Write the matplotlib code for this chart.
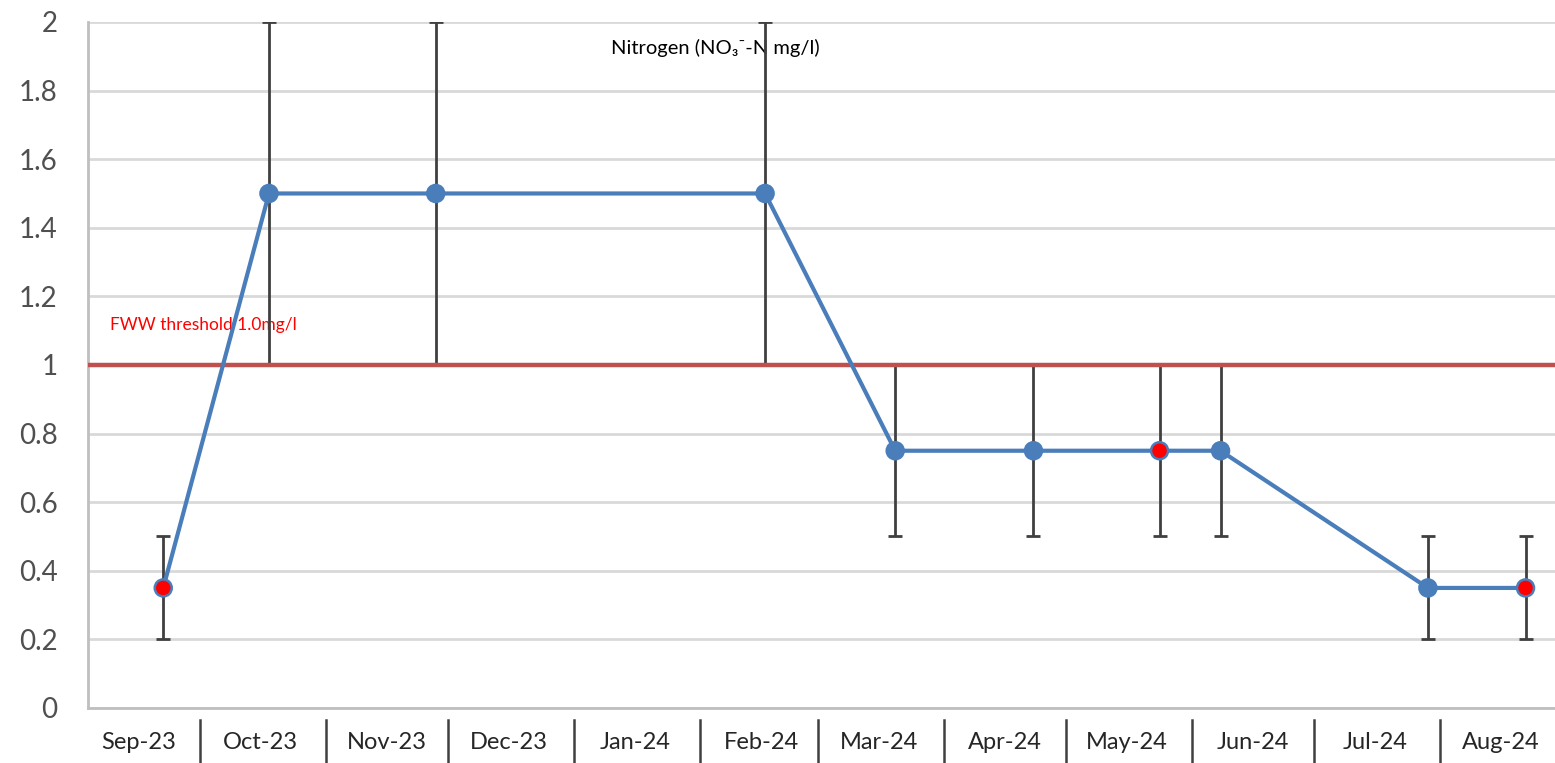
import datetime as dt
import matplotlib
matplotlib.use("Agg")
import matplotlib.pyplot as plt
import matplotlib.dates as mdates

# sampling dates and nitrate readings
sample_dates = ["2023-09-22", "2023-10-18", "2023-11-28", "2024-02-17", "2024-03-20",
                "2024-04-23", "2024-05-24", "2024-06-08", "2024-07-29", "2024-08-22"]
nitrate = [0.35, 1.5, 1.5, 1.5, 0.75, 0.75, 0.75, 0.75, 0.35, 0.35]
range_low = [0.2, 1.0, 1.0, 1.0, 0.5, 0.5, 0.5, 0.5, 0.2, 0.2]
range_high = [0.5, 2.0, 2.0, 2.0, 1.0, 1.0, 1.0, 1.0, 0.5, 0.5]
# points reported as below detection limit (red dots)
flagged = [True, False, False, False, False, False, True, False, False, True]

month_labels = ["Sep-23", "Oct-23", "Nov-23", "Dec-23", "Jan-24", "Feb-24",
                "Mar-24", "Apr-24", "May-24", "Jun-24", "Jul-24", "Aug-24"]
y_ticks = [0, 0.2, 0.4, 0.6, 0.8, 1, 1.2, 1.4, 1.6, 1.8, 2]
threshold = 1.0


def make_chart():
    plt.rcParams['font.family'] = ['Lato', 'DejaVu Sans']

    fig = plt.figure(figsize=(15.55, 7.63), dpi=100)
    ax = fig.add_axes([0.0566, 0.0721, 0.9434, 0.8991])

    x = [mdates.date2num(dt.datetime.strptime(d, "%Y-%m-%d")) for d in sample_dates]
    yerr = [[v - lo for v, lo in zip(nitrate, range_low)],
            [hi - v for v, hi in zip(nitrate, range_high)]]

    # grid + axes
    ax.set_ylim(0, 2)
    ax.set_yticks(y_ticks)
    ax.set_yticklabels([f"{t:g}" for t in y_ticks])
    ax.yaxis.grid(True, color='#d9d9d9', linewidth=2)
    ax.set_axisbelow(True)
    for s in ['top', 'right']:
        ax.spines[s].set_visible(False)
    ax.spines['left'].set_color('#bfbfbf')
    ax.spines['left'].set_linewidth(2)
    ax.spines['bottom'].set_color('#bfbfbf')
    ax.spines['bottom'].set_linewidth(2)
    ax.tick_params(axis='y', length=0, pad=22, labelsize=20, labelcolor='#505050')

    # month axis: labels mid-month, separators at month starts
    months = [dt.datetime(2023 + (8 + i) // 12, (8 + i) % 12 + 1, 1) for i in range(12)]
    mids = [mdates.date2num(m) + 15 for m in months]
    ax.set_xticks(mids)
    ax.set_xticklabels(month_labels)
    ax.tick_params(axis='x', length=0, pad=17, labelsize=17, labelcolor='#262626')
    trans = ax.get_xaxis_transform()
    for m in months[1:]:
        xm = mdates.date2num(m)
        ax.plot([xm, xm], [-0.017, -0.09], color='#404040', lw=1.8,
                transform=trans, clip_on=False)
    ax.set_xlim(mdates.date2num(dt.datetime(2023, 9, 3, 12)),
                mdates.date2num(dt.datetime(2024, 8, 29, 6)))

    # error bars (range of readings)
    ax.errorbar(x, nitrate, yerr=yerr, fmt='none', ecolor='#404040',
                elinewidth=2, capsize=5, capthick=2, zorder=2)

    # threshold line
    ax.axhline(threshold, color='#c0504d', linewidth=3.2, zorder=3)

    # data line
    ax.plot(x, nitrate, color='#4a7ebb', linewidth=3, zorder=4)
    face = ['red' if f else '#4a7ebb' for f in flagged]
    ax.scatter(x, nitrate, s=150, c=face, edgecolors='#4a7ebb', linewidths=1.8, zorder=5)

    # annotations
    ax.text(mdates.date2num(dt.datetime(2023, 9, 9)), 1.117, "FWW threshold 1.0mg/l",
            color='red', fontsize=12.5, va='center', ha='left', zorder=1)
    ax.text(mdates.date2num(dt.datetime(2024, 1, 10)), 1.924, "Nitrogen (NO\u2083\u207b-N mg/l)",
            color='black', fontsize=14.5, va='center', ha='left', zorder=1)

    fig.savefig("out.png", dpi=100)
    plt.close(fig)


if __name__ == "__main__":
    make_chart()
